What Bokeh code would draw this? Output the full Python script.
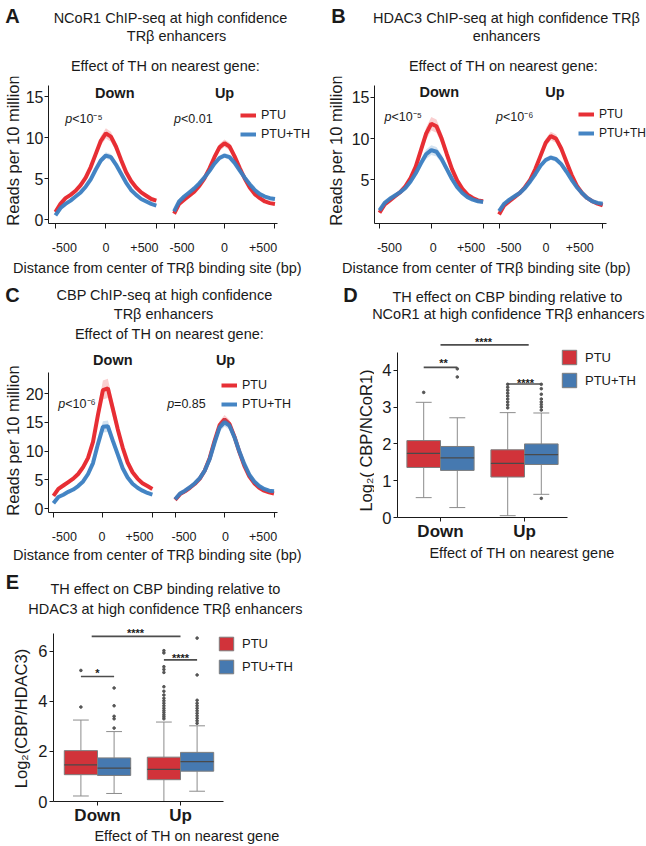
import math
from bokeh.plotting import figure
from bokeh.models import Range1d, FixedTicker, Label, Legend, LegendItem, LinearAxis
from bokeh.layouts import column, row
from bokeh.embed import file_html
from bokeh.resources import INLINE

FONT = "Liberation Sans"
RED = "#E6252B"
BLUE = "#3B7EC1"
BOX_RED = "#D1333A"
BOX_BLUE = "#4679B0"
INK = "#1a1a1a"

# ---------------- data: ChIP-seq profiles (reads per 10 million) ----------------
BP = [-500, -450, -400, -350, -300, -250, -200, -150, -100, -50, 0,
      50, 100, 150, 200, 250, 300, 350, 400, 450, 500]
BP_TICKS = [-500, 0, 500]
BP_TICK_LABELS = ["-500", "0", "+500"]

A_DOWN_PTU = [0.9, 1.9, 2.6, 3.0, 3.5, 4.2, 5.1, 6.4, 8.0, 9.6, 10.5, 10.1, 8.9, 7.3, 5.8, 4.7, 3.9, 3.3, 2.9, 2.5, 2.3]
A_DOWN_TH = [0.5, 1.4, 1.9, 2.3, 2.8, 3.3, 4.0, 4.9, 6.1, 7.2, 7.8, 7.6, 6.7, 5.6, 4.5, 3.6, 3.0, 2.5, 2.2, 1.9, 1.7]
A_UP_PTU = [0.7, 1.9, 2.4, 2.9, 3.4, 4.1, 5.0, 6.2, 7.6, 8.8, 9.3, 8.9, 7.7, 6.3, 5.0, 3.9, 3.1, 2.6, 2.2, 2.0, 1.9]
A_UP_TH = [1.0, 2.2, 2.8, 3.3, 3.8, 4.4, 5.1, 5.9, 6.8, 7.5, 7.8, 7.6, 6.9, 6.0, 5.1, 4.3, 3.6, 3.1, 2.8, 2.6, 2.5]

B_DOWN_PTU = [1.0, 2.0, 2.5, 3.0, 3.5, 4.2, 5.2, 6.6, 8.6, 10.6, 11.8, 11.5, 10.0, 8.1, 6.3, 4.9, 3.9, 3.2, 2.8, 2.5, 2.4]
B_DOWN_TH = [1.3, 2.2, 2.7, 3.1, 3.5, 4.0, 4.8, 5.8, 7.0, 8.1, 8.6, 8.4, 7.5, 6.3, 5.1, 4.1, 3.4, 2.9, 2.6, 2.4, 2.3]
B_UP_PTU = [0.8, 1.9, 2.4, 2.9, 3.4, 4.1, 5.0, 6.3, 7.9, 9.5, 10.3, 10.0, 8.8, 7.2, 5.6, 4.3, 3.4, 2.8, 2.4, 2.1, 1.9]
B_UP_TH = [1.2, 2.1, 2.6, 3.0, 3.4, 4.0, 4.8, 5.7, 6.7, 7.4, 7.7, 7.5, 6.9, 6.0, 5.0, 4.1, 3.4, 2.8, 2.4, 2.2, 2.1]

C_DOWN_PTU = [2.2, 3.4, 4.0, 4.6, 5.2, 6.0, 7.2, 8.8, 11.6, 16.3, 20.6, 20.9, 17.4, 13.8, 10.6, 8.0, 6.3, 5.2, 4.4, 3.9, 3.4]
C_DOWN_TH = [0.9, 2.0, 2.4, 2.9, 3.3, 3.9, 4.7, 6.0, 7.9, 11.2, 14.2, 14.3, 11.8, 9.4, 7.0, 5.4, 4.3, 3.6, 3.1, 2.7, 2.4]
C_UP_PTU = [1.5, 2.5, 3.0, 3.6, 4.3, 5.2, 6.6, 8.8, 11.8, 14.5, 15.5, 14.7, 12.5, 9.8, 7.4, 5.6, 4.4, 3.6, 3.1, 2.8, 2.6]
C_UP_TH = [1.6, 2.6, 3.1, 3.7, 4.4, 5.3, 6.6, 8.6, 11.5, 14.1, 15.0, 14.4, 12.4, 9.9, 7.7, 5.9, 4.7, 3.9, 3.4, 3.1, 3.0]

# relative half-width of the shaded band [PTU Down, PTU+TH Down, PTU Up, PTU+TH Up]
A_BAND = [0.06, 0.05, 0.05, 0.04]
B_BAND = [0.07, 0.07, 0.05, 0.04]
C_BAND = [0.08, 0.07, 0.05, 0.05]

P_LABELS_A = ["<10\u207b\u2075", "<0.01"]
P_LABELS_B = ["<10\u207b\u2075", "<10\u207b\u2076"]
P_LABELS_C = ["<10\u207b\u2076", "=0.85"]

# ---------------- data: box plots [low whisker, Q1, median, Q3, high whisker] ----------------
GROUPS = ["Down", "Up"]
D_PTU = [[0.54, 1.36, 1.74, 2.09, 3.13], [0.05, 1.10, 1.47, 1.84, 2.85]]
D_TH = [[0.27, 1.28, 1.62, 1.93, 2.71], [0.63, 1.44, 1.71, 2.00, 2.84]]
D_PTU_OUT = [[3.40], [2.98, 3.06, 3.14, 3.22, 3.30, 3.38, 3.46, 3.54, 3.62]]
D_TH_OUT = [[3.82, 4.04], [0.52, 2.92, 3.00, 3.07, 3.14, 3.22, 3.35, 3.50, 3.62]]

E_PTU = [[0.22, 1.07, 1.46, 2.03, 3.25], [0.0, 0.87, 1.28, 1.77, 3.17]]
E_TH = [[0.32, 1.04, 1.33, 1.74, 2.79], [0.41, 1.21, 1.59, 1.96, 3.02]]
E_PTU_OUT = [[3.77, 5.23], [3.30, 3.38, 3.46, 3.55, 3.63, 3.72, 3.82, 3.92, 4.02, 4.12,
                            4.25, 4.40, 4.58, 5.15, 5.27, 5.38, 5.93, 6.02]]
E_TH_OUT = [[2.93, 3.30, 3.40, 3.82, 4.53], [3.12, 3.22, 3.32, 3.42, 3.52, 3.62, 3.72,
                                             3.82, 3.92, 4.04, 5.05, 6.52]]


# ---------------- helpers ----------------
def blank(ox, oy, w, h):
    """Frame-only figure whose data coordinates equal page pixels."""
    p = figure(width=w, height=h, x_range=Range1d(ox, ox + w), y_range=Range1d(oy + h, oy),
               x_axis_location=None, y_axis_location=None,
               min_border_left=0, min_border_right=0, min_border_top=0, min_border_bottom=0,
               toolbar_location=None, output_backend="svg")
    p.outline_line_color = None
    p.grid.visible = False
    g = dict(xa=0, pxa=0, sx=1, ya=0, pya=0, sy=1)
    return p, g


def make_fig(origin, size, frame, xmap, ymap):
    ox, oy = origin
    w, h = size
    fx0, fy0, fx1, fy1 = frame
    (xa, pxa), (xb, pxb) = xmap
    sx = (pxb - pxa) / (xb - xa)
    (ya, pya), (yb, pyb) = ymap
    sy = (pyb - pya) / (yb - ya)
    x0 = xa + (fx0 - pxa) / sx
    x1 = xa + (fx1 - pxa) / sx
    ytop = ya + (fy0 - pya) / sy
    ybot = ya + (fy1 - pya) / sy
    p = figure(width=w, height=h, x_range=Range1d(x0, x1), y_range=Range1d(ybot, ytop),
               min_border_left=fx0 - ox, min_border_right=ox + w - fx1,
               min_border_top=fy0 - oy, min_border_bottom=oy + h - fy1,
               toolbar_location=None, output_backend="svg")
    p.outline_line_color = None
    p.xgrid.visible = False
    p.ygrid.visible = False
    for ax in (p.xaxis[0], p.yaxis[0]):
        ax.axis_line_color = INK
        ax.major_tick_line_color = INK
        ax.minor_tick_line_color = None
        ax.major_tick_in = 0
        ax.major_tick_out = 4
        ax.major_label_text_font = FONT
        ax.major_label_text_color = INK
        ax.axis_label_text_font = FONT
        ax.axis_label_text_font_style = "normal"
        ax.axis_label_text_color = INK
    g = dict(xa=xa, pxa=pxa, sx=sx, ya=ya, pya=pya, sy=sy, fx0=fx0, fy1=fy1)
    return p, g


def dx(g, px):
    return g["xa"] + (px - g["pxa"]) / g["sx"]


def dy(g, py):
    return g["ya"] + (py - g["pya"]) / g["sy"]


def txt(p, g, px, py, text, size, style="normal", align="center", angle=0.0, baseline="middle"):
    p.add_layout(Label(x=dx(g, px), y=dy(g, py), text=text, text_font=FONT, text_font_size=f"{size}px",
                       text_font_style=style, text_align=align, text_baseline=baseline,
                       angle=angle, text_color=INK))


def pval(p, g, px, py, rest):
    txt(p, g, px, py, "p", 12.5, style="italic", align="right")
    txt(p, g, px, py, rest, 12.5, align="left")


def profile(p, ys, color, rel, offset):
    xs = [b + offset for b in BP]
    lo = [v * (1 - rel) for v in ys]
    hi = [v * (1 + rel) for v in ys]
    p.varea(x=xs, y1=lo, y2=hi, fill_color=color, fill_alpha=0.22)
    return p.line(xs, ys, line_color=color, line_width=4, line_alpha=0.95)


def add_legend(p, g, renderers, labels, px, ptop, gw, gh, spacing, size, standoff):
    items = [LegendItem(label=l, renderers=[r]) for l, r in zip(labels, renderers)]
    bottom = ptop + 2 * gh + spacing
    leg = Legend(items=items, location=(px - g["fx0"], g["fy1"] - bottom))
    leg.glyph_width = gw
    leg.glyph_height = gh
    leg.label_height = gh
    leg.label_width = 20
    leg.spacing = spacing
    leg.padding = 0
    leg.margin = 0
    leg.border_line_color = None
    leg.background_fill_alpha = 0
    leg.label_text_font = FONT
    leg.label_text_font_size = f"{size}px"
    leg.label_text_color = INK
    leg.label_standoff = standoff
    p.add_layout(leg)


def profile_main(origin, size, frame, xmap, ymap, up_off, axis_top_px, axis_right_px, series, bands,
                 yticks, label_px, texts, pvals, legend_pos, legend_size):
    p, g = make_fig(origin, size, frame, xmap, ymap)
    dp, dt, upp, upt = series
    r1 = profile(p, dp, RED, bands[0], 0)
    r2 = profile(p, dt, BLUE, bands[1], 0)
    profile(p, upp, RED, bands[2], up_off)
    profile(p, upt, BLUE, bands[3], up_off)
    ticks = [t for t in BP_TICKS] + [t + up_off for t in BP_TICKS]
    xax = p.xaxis[0]
    xax.ticker = FixedTicker(ticks=ticks)
    xax.major_label_overrides = {t: "" for t in ticks}
    xax.major_label_text_font_size = "0px"
    xax.major_label_standoff = 0
    xax.major_tick_out = 5
    xax.bounds = (p.x_range.start, dx(g, axis_right_px))
    # tick labels (typeset slightly inward, as in the original)
    lab_pos = [dx(g, v) for v in label_px]
    lax = LinearAxis(ticker=FixedTicker(ticks=lab_pos),
                     major_label_overrides={v: s for v, s in zip(lab_pos, BP_TICK_LABELS * 2)},
                     axis_line_color=None, major_tick_line_color=None, minor_tick_line_color=None,
                     major_label_text_font=FONT, major_label_text_font_size="12.5px",
                     major_label_text_color=INK, major_label_standoff=8)
    p.add_layout(lax, "below")
    yax = p.yaxis[0]
    yax.ticker = FixedTicker(ticks=yticks)
    yax.major_label_text_font_size = "16px"
    yax.major_label_standoff = 1
    yax.bounds = (p.y_range.start, dy(g, axis_top_px))
    for (px, py, t, s, st) in texts:
        txt(p, g, px, py, t, s, style=st)
    for (px, py, t) in pvals:
        pval(p, g, px, py, t)
    lx, ltop = legend_pos
    add_legend(p, g, [r1, r2], ["PTU", "PTU+TH"], lx, ltop, 16, 14, 5, legend_size, 5)
    return p


def box_series(p, stats, outs, color, shift):
    xs = [i + 1 + shift for i in range(len(GROUPS))]
    lo = [s[0] for s in stats]
    q1 = [s[1] for s in stats]
    med = [s[2] for s in stats]
    q3 = [s[3] for s in stats]
    hi = [s[4] for s in stats]
    wc = "#8c8c8c"
    p.segment(x0=xs, y0=lo, x1=xs, y1=q1, line_color=wc, line_width=1)
    p.segment(x0=xs, y0=q3, x1=xs, y1=hi, line_color=wc, line_width=1)
    p.segment(x0=[x - 0.095 for x in xs], y0=hi, x1=[x + 0.095 for x in xs], y1=hi, line_color=wc, line_width=1)
    p.segment(x0=[x - 0.095 for x in xs], y0=lo, x1=[x + 0.095 for x in xs], y1=lo, line_color=wc, line_width=1)
    r = p.vbar(x=xs, width=0.4, bottom=q1, top=q3, fill_color=color, line_color="#7d7d7d", line_width=1)
    p.segment(x0=[x - 0.2 for x in xs], y0=med, x1=[x + 0.2 for x in xs], y1=med,
              line_color="#4a4a4a", line_width=1.3)
    ox, oy = [], []
    for x, vals in zip(xs, outs):
        ox += [x] * len(vals)
        oy += vals
    p.scatter(ox, oy, size=2.6, color="#555555")
    return r


def box_main(origin, size, frame, xmap, ymap, axis_top_px, axis_right_px, yticks, ptu, th, ptu_out, th_out,
             brackets, xtitle_standoff, legend_pos, lg):
    p, g = make_fig(origin, size, frame, xmap, ymap)
    r1 = box_series(p, ptu, ptu_out, BOX_RED, -0.2)
    r2 = box_series(p, th, th_out, BOX_BLUE, 0.2)
    xax = p.xaxis[0]
    xax.ticker = FixedTicker(ticks=[1, 2])
    xax.major_label_overrides = {1: GROUPS[0], 2: GROUPS[1]}
    xax.major_label_text_font_size = "17px"
    xax.major_label_text_font_style = "bold"
    xax.major_label_standoff = 0
    xax.bounds = (p.x_range.start, dx(g, axis_right_px))
    xax.axis_label = "Effect of TH on nearest gene"
    xax.axis_label_text_font_size = "14.5px"
    xax.axis_label_standoff = xtitle_standoff
    yax = p.yaxis[0]
    yax.ticker = FixedTicker(ticks=yticks)
    yax.bounds = (p.y_range.start, dy(g, axis_top_px))
    yax.major_label_text_font_size = "16.5px"
    yax.major_label_standoff = 2
    for (x0, x1, y, sig, sx, sy) in brackets:
        p.segment(x0=[x0], y0=[y], x1=[x1], y1=[y], line_color="#4d4d4d", line_width=1.6)
        txt(p, g, sx, sy, sig, 11, style="bold", baseline="alphabetic")
    lx, ltop = legend_pos
    add_legend(p, g, [r1, r2], ["PTU", "PTU+TH"], lx, ltop, lg[0], lg[1], lg[2], 13, 7)
    return p


def solo(p):
    """Wrap a figure so that its frame is not aligned with its neighbours'."""
    return column(p)


DIST_TITLE = "Distance from center of TR\u03b2 binding site (bp)"
SUBTITLE = "Effect of TH on nearest gene:"
YLAB_READS = "Reads per 10 million"

# ================= Panel A =================
hA, g = blank(0, 0, 320, 76)
txt(hA, g, 12, 15, "A", 20, style="bold")
txt(hA, g, 170, 17, "NCoR1 ChIP-seq at high confidence", 14.5)
txt(hA, g, 176, 35, "TR\u03b2 enhancers", 14.5)
txt(hA, g, 165, 65, SUBTITLE, 14.5)
sA, g = blank(0, 76, 22, 178)
txt(sA, g, 12, 150, YLAB_READS, 16.5, angle=math.pi / 2)
mA = profile_main((22, 76), (298, 178), (45, 76, 320, 223), ((-500, 52), (500, 154)), ((0, 219), (15, 96)),
                  1176, 85, 277, (A_DOWN_PTU, A_DOWN_TH, A_UP_PTU, A_UP_TH), A_BAND, [0, 5, 10, 15],
                  [61, 103, 142, 180, 223, 262],
                  [(112, 92, "Down", 14.5, "bold"), (223, 92, "Up", 14.5, "bold")],
                  [(69, 118, P_LABELS_A[0]), (179, 118, P_LABELS_A[1])], (237, 108), 12.5)
fA, g = blank(0, 254, 320, 24)
txt(fA, g, 157, 267, DIST_TITLE, 14.5)
panelA = column(solo(hA), row(solo(sA), solo(mA)), solo(fA))

# ================= Panel B =================
hB, g = blank(320, 0, 326, 76)
txt(hB, g, 338, 15, "B", 20, style="bold")
txt(hB, g, 506, 17, "HDAC3 ChIP-seq at high confidence TR\u03b2", 14.5)
txt(hB, g, 506, 35, "enhancers", 14.5)
txt(hB, g, 503, 65, SUBTITLE, 14.5)
sB, g = blank(320, 76, 28, 178)
txt(sB, g, 335, 150, YLAB_READS, 16.5, angle=math.pi / 2)
mB = profile_main((348, 76), (298, 178), (373, 76, 646, 224), ((-500, 378), (500, 482)), ((5, 180), (15, 97)),
                  1154, 85, 606, (B_DOWN_PTU, B_DOWN_TH, B_UP_PTU, B_UP_TH), B_BAND, [5, 10, 15],
                  [388, 432, 470, 508, 545, 579],
                  [(438, 92, "Down", 14.5, "bold"), (554, 92, "Up", 14.5, "bold")],
                  [(390, 117, P_LABELS_B[0]), (502, 117, P_LABELS_B[1])], (577, 108), 12)
fB, g = blank(320, 254, 326, 24)
txt(fB, g, 486, 267, DIST_TITLE, 14.5)
panelB = column(solo(hB), row(solo(sB), solo(mB)), solo(fB))

# ================= Panel C =================
hC, g = blank(0, 278, 320, 67)
txt(hC, g, 12, 294, "C", 20, style="bold")
txt(hC, g, 164, 294, "CBP ChIP-seq at high confidence", 14.5)
txt(hC, g, 163, 313, "TR\u03b2 enhancers", 14.5)
txt(hC, g, 169, 333, SUBTITLE, 14.5)
sC, g = blank(0, 345, 22, 199)
txt(sC, g, 12, 440, YLAB_READS, 16.5, angle=math.pi / 2)
mC = profile_main((22, 345), (298, 199), (45, 345, 320, 512), ((-500, 50), (500, 150)), ((0, 508), (20, 393)),
                  1230, 372, 277, (C_DOWN_PTU, C_DOWN_TH, C_UP_PTU, C_UP_TH), C_BAND, [0, 5, 10, 15, 20],
                  [61, 99, 137, 182, 224, 262],
                  [(110, 359, "Down", 14.5, "bold"), (224, 359, "Up", 14.5, "bold")],
                  [(62, 403, P_LABELS_C[0]), (172, 403, P_LABELS_C[1])], (218, 378), 12.5)
fC, g = blank(0, 544, 320, 19)
txt(fC, g, 157, 554, DIST_TITLE, 14.5)
panelC = column(solo(hC), row(solo(sC), solo(mC)), solo(fC))

# ================= Panel D =================
hD, g = blank(320, 278, 326, 46)
txt(hD, g, 350, 294, "D", 20, style="bold")
txt(hD, g, 507, 296, "TH effect on CBP binding relative to", 14.5)
txt(hD, g, 508, 313, "NCoR1 at high confidence TR\u03b2 enhancers", 14.5)
sD, g = blank(320, 324, 54, 239)
txt(sD, g, 365, 440, "Log\u2082( CBP/NCoR1)", 16.5, angle=math.pi / 2)
mD = box_main((374, 324), (272, 239), (397, 324, 646, 522), ((1, 440), (2, 524)), ((0, 522), (4, 371)),
              353, 567, [0, 1, 2, 3, 4], D_PTU, D_TH, D_PTU_OUT, D_TH_OUT,
              [(0.8, 1.2, 4.08, "**", 443, 363),
               (1.0, 2.05, 4.69, "****", 483, 342),
               (1.8, 2.2, 3.63, "****", 525, 384)],
              1, (560, 353), (18, 18, 5))
panelD = column(solo(hD), row(solo(sD), solo(mD)))

# ================= Panel E =================
hE, g = blank(0, 563, 320, 55)
txt(hE, g, 12, 581, "E", 20, style="bold")
txt(hE, g, 165, 588, "TH effect on CBP binding relative to", 14.5)
txt(hE, g, 165, 608, "HDAC3 at high confidence TR\u03b2 enhancers", 14.5)
sE, g = blank(0, 618, 32, 228)
txt(sE, g, 20, 718, "Log\u2082(CBP/HDAC3)", 16.5, angle=math.pi / 2)
mE = box_main((32, 618), (288, 228), (53, 618, 320, 803), ((1, 97), (2, 180)), ((0, 803), (6, 651)),
              633, 223, [0, 2, 4, 6], E_PTU, E_TH, E_PTU_OUT, E_TH_OUT,
              [(0.8, 1.2, 4.99, "*", 97, 673),
               (1.8, 2.2, 5.65, "****", 180, 658),
               (0.93, 2.0, 6.59, "****", 135, 633)],
              0, (217, 637), (18, 17, 6))
panelE = column(solo(hE), row(solo(sE), solo(mE)))

layout = column(row(panelA, panelB), row(panelC, panelD), panelE)
open("out.html", "w").write(file_html(layout, INLINE))
